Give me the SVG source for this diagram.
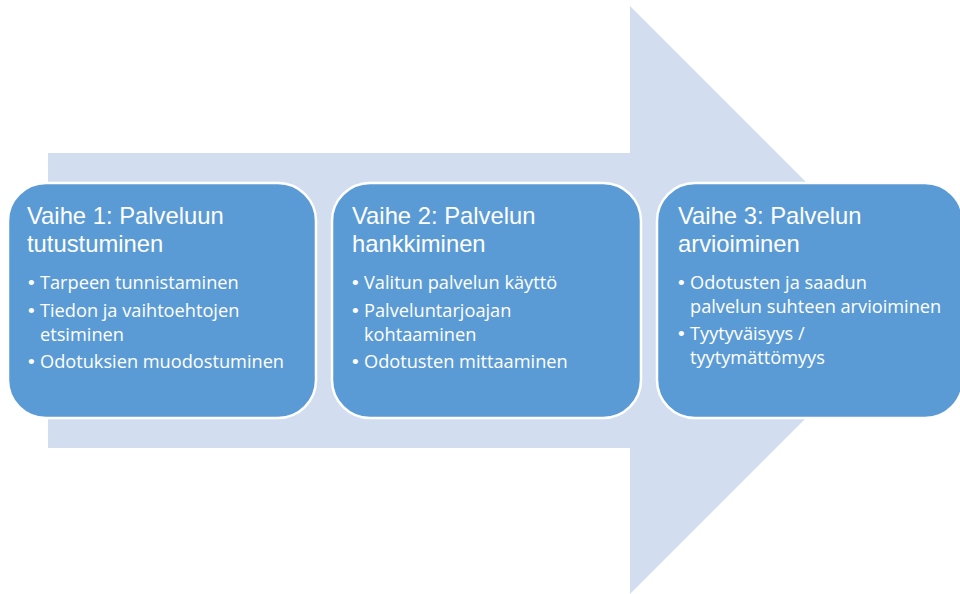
<svg xmlns="http://www.w3.org/2000/svg" width="960" height="594" viewBox="0 0 960 594">
  <style>
    .arrow { fill: #D2DEEF; }
    .box { fill: #5B9BD5; stroke: #FFFFFF; stroke-width: 2.5; }
    .title { font-family: "Liberation Sans", Arial, sans-serif; font-size: 23.8px; fill: #FFFFFF; }
    .item { font-family: "Open Sans", "Liberation Sans", sans-serif; font-size: 18.2px; fill: #FFFFFF; }
    .dot { font-family: "Liberation Sans", sans-serif; font-size: 19px; fill: #FFFFFF; }
  </style>
  <rect width="960" height="594" fill="#FFFFFF"/>

  <!-- background process arrow -->
  <polygon class="arrow" points="48,153 630,153 630,6 924,300 630,594 630,448 48,448"/>

  <g id="connectors"></g>

  <g id="vaihe1">
    <rect class="box" x="8" y="183" width="308" height="235" rx="38" ry="38"/>
    <text class="title"><tspan x="27" y="224">Vaihe 1: Palveluun</tspan><tspan x="27" y="252">tutustuminen</tspan></text>
    <text class="dot" x="28" y="289">•</text>
    <text class="item" x="40" y="289">Tarpeen tunnistaminen</text>
    <text class="dot" x="28" y="317">•</text>
    <text class="item"><tspan x="40" y="317">Tiedon ja vaihtoehtojen</tspan><tspan x="40" y="341">etsiminen</tspan></text>
    <text class="dot" x="28" y="368">•</text>
    <text class="item" x="40" y="368">Odotuksien muodostuminen</text>
  </g>

  <g id="vaihe2">
    <rect class="box" x="332" y="183" width="309" height="235" rx="38" ry="38"/>
    <text class="title"><tspan x="352" y="224">Vaihe 2: Palvelun</tspan><tspan x="352" y="252">hankkiminen</tspan></text>
    <text class="dot" x="352" y="289">•</text>
    <text class="item" x="364" y="289">Valitun palvelun käyttö</text>
    <text class="dot" x="352" y="317">•</text>
    <text class="item"><tspan x="364" y="317">Palveluntarjoajan</tspan><tspan x="364" y="341">kohtaaminen</tspan></text>
    <text class="dot" x="352" y="368">•</text>
    <text class="item" x="364" y="368">Odotusten mittaaminen</text>
  </g>

  <g id="vaihe3">
    <rect class="box" x="657" y="183" width="306" height="235" rx="38" ry="38"/>
    <text class="title"><tspan x="678" y="224">Vaihe 3: Palvelun</tspan><tspan x="678" y="252">arvioiminen</tspan></text>
    <text class="dot" x="678" y="289">•</text>
    <text class="item"><tspan x="690" y="289">Odotusten ja saadun</tspan><tspan x="690" y="313">palvelun suhteen arvioiminen</tspan></text>
    <text class="dot" x="678" y="340">•</text>
    <text class="item"><tspan x="690" y="340">Tyytyväisyys /</tspan><tspan x="690" y="364">tyytymättömyys</tspan></text>
  </g>
</svg>
